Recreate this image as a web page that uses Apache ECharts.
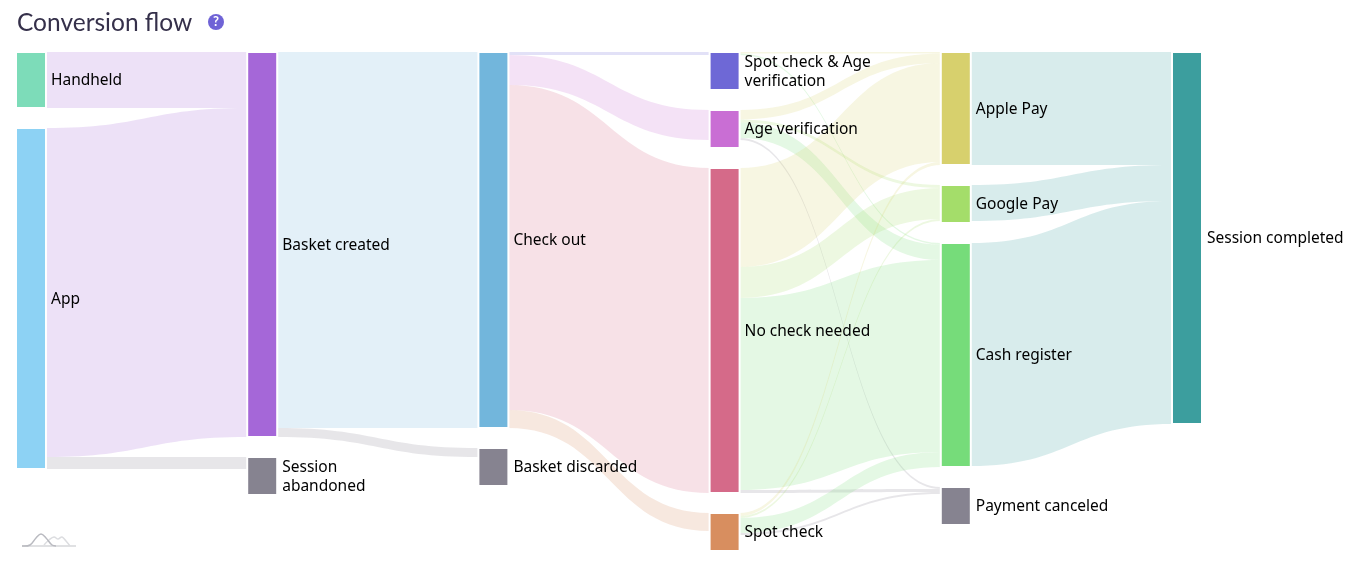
<!DOCTYPE html>
<html>
<head>
<meta charset="utf-8">
<title>Conversion flow</title>
<style>
  html, body { margin: 0; padding: 0; background: #fff; }
  #chart { width: 1355px; height: 565px; }
</style>
<script src="https://cdn.jsdelivr.net/npm/echarts@6/dist/echarts.min.js"></script>
</head>
<body>
<div id="chart"></div>
<script>
var nodeNames = ['Handheld', 'App', 'Basket created', 'Session abandoned', 'Check out', 'Basket discarded',
  'Spot check & Age verification', 'Age verification', 'No check needed', 'Spot check',
  'Apple Pay', 'Google Pay', 'Cash register', 'Payment canceled', 'Session completed'];
var nodeColors = ['#7ddcb9', '#8dd2f4', '#a567d8', '#868390', '#72b6dc', '#868390',
  '#6e68d6', '#c96ed4', '#d56a89', '#d88e5f',
  '#d7d06d', '#a4dd6a', '#76dc7a', '#868390', '#3c9e9e'];
// small nodes are drawn bigger than their flow, so they get a floor value
var nodeValues = [56, 341, 385, 38, 376, 38, 38, 38, 325, 38, 113, 38, 224, 38, 372];
var nodeLabels = {
  'Session abandoned': 'Session\nabandoned',
  'Spot check & Age verification': 'Spot check & Age\nverification'
};

var linkSources = ['Handheld', 'App', 'App', 'Basket created', 'Basket created',
  'Check out', 'Check out', 'Check out', 'Check out',
  'Spot check & Age verification', 'Spot check & Age verification',
  'Age verification', 'Age verification', 'Age verification', 'Age verification',
  'No check needed', 'No check needed', 'No check needed', 'No check needed',
  'Spot check', 'Spot check', 'Spot check', 'Spot check',
  'Apple Pay', 'Google Pay', 'Cash register'];
var linkTargets = ['Basket created', 'Basket created', 'Session abandoned', 'Check out', 'Basket discarded',
  'Spot check & Age verification', 'Age verification', 'No check needed', 'Spot check',
  'Apple Pay', 'Cash register',
  'Apple Pay', 'Google Pay', 'Cash register', 'Payment canceled',
  'Apple Pay', 'Google Pay', 'Cash register', 'Payment canceled',
  'Apple Pay', 'Google Pay', 'Cash register', 'Payment canceled',
  'Session completed', 'Session completed', 'Session completed'];
var linkValues = [56, 329, 12, 376, 9,
  3, 30, 325, 18,
  1.5, 1.5,
  9.5, 3, 15.5, 2,
  99, 31, 192, 3,
  3, 2, 15, 2,
  113, 36, 223];

var nodes = nodeNames.map(function (name, i) {
  return {
    name: name,
    value: nodeValues[i],
    itemStyle: { color: nodeColors[i] },
    label: nodeLabels[name] ? { formatter: nodeLabels[name] } : undefined
  };
});
var links = linkSources.map(function (source, i) {
  return { source: source, target: linkTargets[i], value: linkValues[i] };
});

var chart = echarts.init(document.getElementById('chart'), null, { renderer: 'canvas' });
chart.setOption({
  animation: false,
  title: {
    text: 'Conversion flow',
    left: 17,
    top: 11,
    padding: 0,
    textStyle: { fontFamily: 'Lato', fontSize: 24.5, fontWeight: 'normal', color: '#35304a' }
  },
  graphic: [
    { type: 'circle', shape: { cx: 216, cy: 22, r: 8 }, style: { fill: '#6f63d6' } },
    { type: 'text', x: 216, y: 22, style: { text: '?', fill: '#fff', font: 'bold 13px Lato', align: 'center', verticalAlign: 'middle' } },
    // little trend glyph in the bottom corner
    { type: 'line', shape: { x1: 22, y1: 546, x2: 76, y2: 546 }, style: { stroke: '#d6d7da', lineWidth: 1.5 } },
    { type: 'polyline', shape: { points: [[44, 545], [49, 540], [54, 537], [58, 539], [62, 537], [66, 541], [70, 546]], smooth: 0.4 }, style: { fill: 'none', stroke: '#dcdde0', lineWidth: 1.5 } },
    { type: 'polyline', shape: { points: [[22, 546], [30, 545], [36, 538], [41, 534], [46, 538], [52, 545], [56, 546]], smooth: 0.4 }, style: { fill: 'none', stroke: '#b9bac0', lineWidth: 1.5 } }
  ],
  series: [{
    type: 'sankey',
    left: 16,
    right: 153,
    top: 52,
    bottom: 14,
    nodeWidth: 30,
    nodeGap: 20,
    nodeAlign: 'left',
    layoutIterations: 0,
    draggable: false,
    data: nodes,
    links: links,
    itemStyle: { borderColor: '#fff', borderWidth: 2 },
    lineStyle: { color: 'target', opacity: 0.2, curveness: 0.5 },
    label: {
      position: 'right',
      distance: 4,
      offset: [0, 1],
      fontFamily: 'Noto Sans',
      fontSize: 15.5,
      lineHeight: 19,
      color: '#000'
    },
    emphasis: { disabled: true }
  }]
});
</script>
</body>
</html>
